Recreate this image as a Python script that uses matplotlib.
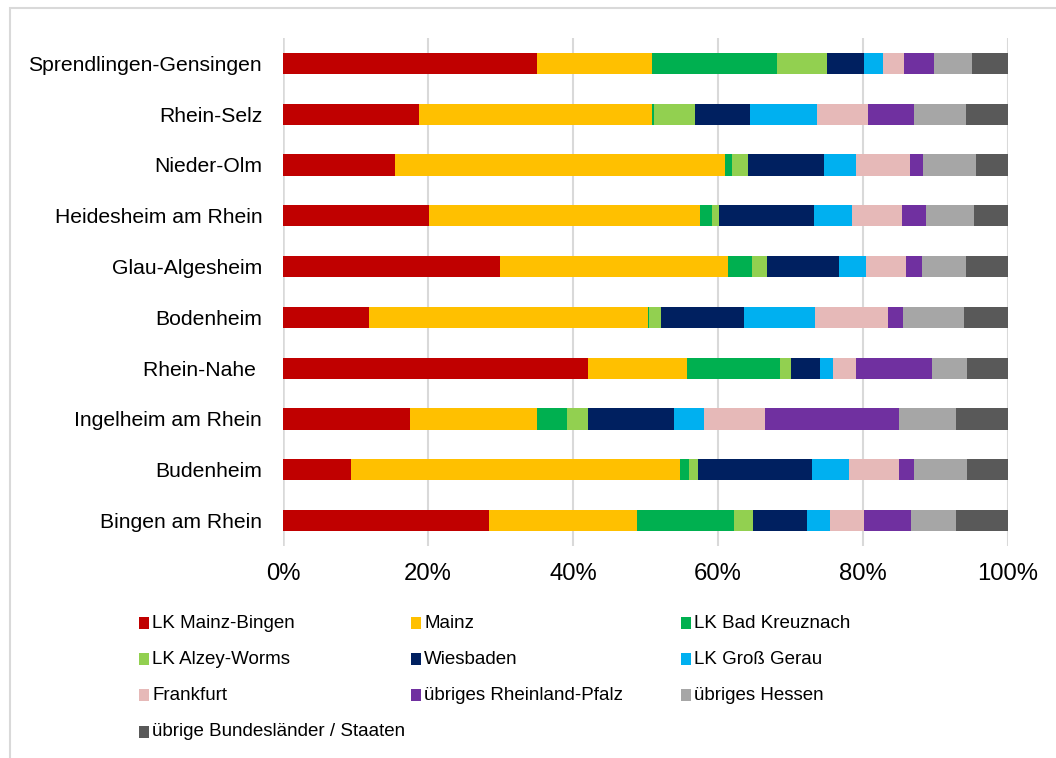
import matplotlib
matplotlib.use("Agg")
import matplotlib.pyplot as plt
from matplotlib.patches import Rectangle
import numpy as np

plt.rcParams['font.family'] = ['Liberation Sans', 'DejaVu Sans']

categories = ["Sprendlingen-Gensingen", "Rhein-Selz", "Nieder-Olm", "Heidesheim am Rhein",
              "Glau-Algesheim", "Bodenheim", "Rhein-Nahe ", "Ingelheim am Rhein",
              "Budenheim", "Bingen am Rhein"]

series_names = ["LK Mainz-Bingen", "Mainz", "LK Bad Kreuznach", "LK Alzey-Worms", "Wiesbaden",
                "LK Groß Gerau", "Frankfurt", "übriges Rheinland-Pfalz", "übriges Hessen",
                "übrige Bundesländer / Staaten"]

lk_mainz_bingen = [35.0, 18.7, 15.5, 20.2, 29.9, 11.8, 42.1, 17.5, 9.4, 28.4]
mainz = [15.9, 32.2, 45.5, 37.3, 31.5, 38.5, 13.6, 17.6, 45.3, 20.4]
lk_bad_kreuznach = [17.3, 0.3, 0.9, 1.7, 3.3, 0.2, 12.9, 4.1, 1.3, 13.4]
lk_alzey_worms = [6.8, 5.6, 2.3, 1.0, 2.0, 1.6, 1.4, 2.9, 1.2, 2.6]
wiesbaden = [5.1, 7.6, 10.4, 13.1, 10.0, 11.5, 4.1, 11.8, 15.8, 7.5]
lk_gross_gerau = [2.7, 9.2, 4.5, 5.2, 3.7, 9.8, 1.7, 4.2, 5.0, 3.2]
frankfurt = [2.9, 7.1, 7.4, 6.9, 5.5, 10.0, 3.2, 8.4, 6.9, 4.7]
uebriges_rlp = [4.1, 6.4, 1.8, 3.3, 2.3, 2.1, 10.5, 18.5, 2.1, 6.4]
uebriges_hessen = [5.2, 7.1, 7.3, 6.6, 6.0, 8.4, 4.9, 7.8, 7.4, 6.2]
uebrige_laender = [5.0, 5.8, 4.4, 4.7, 5.8, 6.1, 5.6, 7.2, 5.6, 7.2]

series_values = [lk_mainz_bingen, mainz, lk_bad_kreuznach, lk_alzey_worms, wiesbaden,
                 lk_gross_gerau, frankfurt, uebriges_rlp, uebriges_hessen, uebrige_laender]

colors = ["#C00000", "#FFC000", "#00B050", "#92D050", "#002060",
          "#00B0F0", "#E6B9B8", "#7030A0", "#A6A6A6", "#595959"]

tick_values = [0, 20, 40, 60, 80, 100]
tick_labels = ["0%", "20%", "40%", "60%", "80%", "100%"]

W, H = 1056, 758
fig = plt.figure(figsize=(W / 100, H / 100), dpi=100)
ax = fig.add_axes([283 / W, 1 - 546 / H, (1008 - 283) / W, (546 - 38) / H])

n = len(categories)
y = np.arange(n)[::-1]  # first category on top
left = np.zeros(n)
handles = []
for name, vals, c in zip(series_names, series_values, colors):
    vals = np.array(vals)
    b = ax.barh(y, vals, left=left, height=0.42, color=c, edgecolor='none', label=name, zorder=3)
    handles.append(b)
    left = left + vals

ax.set_xlim(0, 100)
ax.set_ylim(-0.5, n - 0.5)
ax.set_yticks(y)
ax.set_yticklabels(categories, fontsize=15.2)
ax.set_xticks(tick_values)
ax.set_xticklabels(tick_labels, fontsize=17.2)
ax.tick_params(axis='both', length=0)
ax.tick_params(axis='y', pad=15)
ax.tick_params(axis='x', pad=12)
ax.grid(axis='x', color='#D9D9D9', linewidth=1.5, zorder=0)
for s in ax.spines.values():
    s.set_visible(False)
ax.axvline(0, color='#D9D9D9', linewidth=1.8, zorder=1)

# Legend (row-wise, 3 columns)
col_x = [139, 411, 681]
row_y = [623, 659, 695, 732]
for i, (name, c) in enumerate(zip(series_names, colors)):
    r, k = divmod(i, 3)
    mx, my = col_x[k], row_y[r]
    fig.add_artist(Rectangle((mx / W, 1 - (my + 6) / H), 10 / W, 12 / H,
                             transform=fig.transFigure, facecolor=c, edgecolor='none'))
    fig.text((mx + 13) / W, 1 - my / H, name, fontsize=13.5, va='center', ha='left')

# Chart border
fig.add_artist(Rectangle((10 / W, -0.05), 1.2, 1 - 8 / H + 0.05, transform=fig.transFigure,
                         facecolor='none', edgecolor='#D9D9D9', linewidth=1.5))

fig.savefig("out.png", dpi=100)
